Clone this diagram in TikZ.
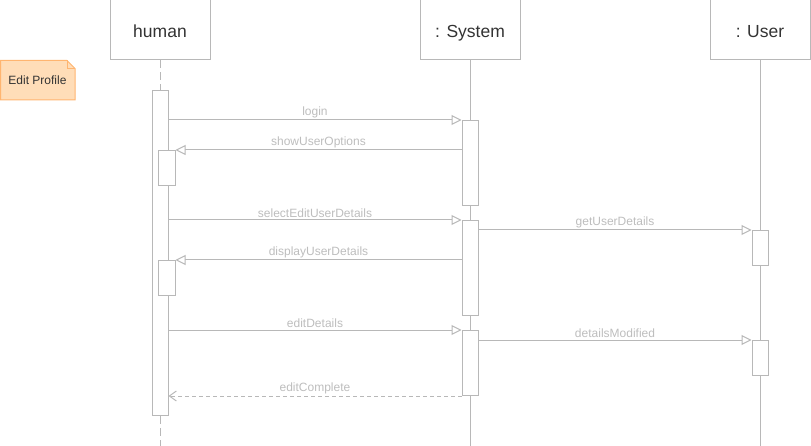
\documentclass[tikz,border=0pt]{standalone}
\usepackage{fontspec}
\setmainfont{Liberation Sans}
\usetikzlibrary{arrows.meta}
\definecolor{lgray}{HTML}{B8B8B8}
\definecolor{ltext}{HTML}{BDBDBD}
\definecolor{dtext}{HTML}{333333}
\definecolor{notefill}{HTML}{FFDDB8}
\definecolor{notedraw}{HTML}{FFB570}
\begin{document}
\begin{tikzpicture}[x=1pt,y=-1pt,
  every path/.style={line width=1pt},
  header/.style={draw=lgray, line width=1pt, minimum width=100pt, minimum height=60pt, inner sep=0pt, text height=15pt, text depth=0pt, font=\fontsize{17.5}{20}\selectfont, text=dtext},
  actbox/.style={draw=lgray, fill=white, line width=1pt, minimum width=16pt, inner sep=0pt, anchor=north},
  msg/.style={draw=lgray, line width=1pt, -{Triangle[open, length=10pt, width=10pt, fill=white]}},
  ret/.style={draw=lgray, line width=1pt, dash pattern=on 4pt off 3pt, -{Straight Barb[length=7pt, width=10pt, line width=1pt]}},
  lbl/.style={midway, above=1pt, inner sep=1pt, text=ltext, font=\fontsize{12}{14}\selectfont},
  life/.style={draw=lgray, line width=1pt},
  dlife/.style={draw=lgray, line width=1pt, dash pattern=on 8pt off 4pt}
]
\useasboundingbox (0,0) rectangle (811,446);
% headers
\node[header] (human) at (160,30) {human};
\node[header] (sys) at (470,30) {: System};
\node[header] (usr) at (760,30) {: User};
% bottom ends of lifelines
\coordinate (hend) at (160,446);
\coordinate (send) at (470,446);
\coordinate (uend) at (760,446);
% solid lifelines
\draw[life] (sys.south) -- (send);
\draw[life] (usr.south) -- (uend);
% activations
\node[actbox, minimum height=325pt] (hact) at (160,90) {};
\node[actbox, minimum height=35pt, minimum width=17pt] (hsub1) at (166.5,150) {};
\node[actbox, minimum height=35pt, minimum width=17pt] (hsub2) at (166.5,260) {};
\node[actbox, minimum height=85pt] (sys1) at (470,120) {};
\node[actbox, minimum height=95pt] (sys2) at (470,220) {};
\node[actbox, minimum height=65pt] (sys3) at (470,330) {};
\node[actbox, minimum height=35pt] (usr1) at (760,230) {};
\node[actbox, minimum height=35pt] (usr2) at (760,340) {};
% human dashed lifeline
\draw[dlife] (human.south) -- (hact.north);
\draw[dlife] (hact.south) -- (hend);
% messages
\draw[msg] (hact.east |- sys1.north) -- node[lbl] {login} (sys1.north west);
\draw[msg] (sys1.west |- hsub1.north) -- node[lbl] {showUserOptions} (hsub1.north east);
\draw[msg] (hact.east |- sys2.north) -- node[lbl] {selectEditUserDetails} (sys2.north west);
\draw[msg] (sys2.east |- usr1.north) -- node[lbl] {getUserDetails} (usr1.north west);
\draw[msg] (sys2.west |- hsub2.north) -- node[lbl] {displayUserDetails} (hsub2.north east);
\draw[msg] (hact.east |- sys3.north) -- node[lbl] {editDetails} (sys3.north west);
\draw[msg] (sys3.east |- usr2.north) -- node[lbl] {detailsModified} (usr2.north west);
\draw[ret] (sys3.south west) -- node[lbl] {editComplete} (hact.east |- sys3.south);
% note
\draw[draw=notedraw, fill=notefill] (0.5,60.5) -- (67,60.5) -- (75,68.5) -- (75,100) -- (0.5,100) -- cycle;
\draw[draw=notedraw] (67,60.5) -- (67,68.5) -- (75,68.5);
\node[text=dtext, font=\fontsize{12}{14}\selectfont, inner sep=0pt] (note) at (37.5,80.5) {Edit Profile};
\end{tikzpicture}
\end{document}
